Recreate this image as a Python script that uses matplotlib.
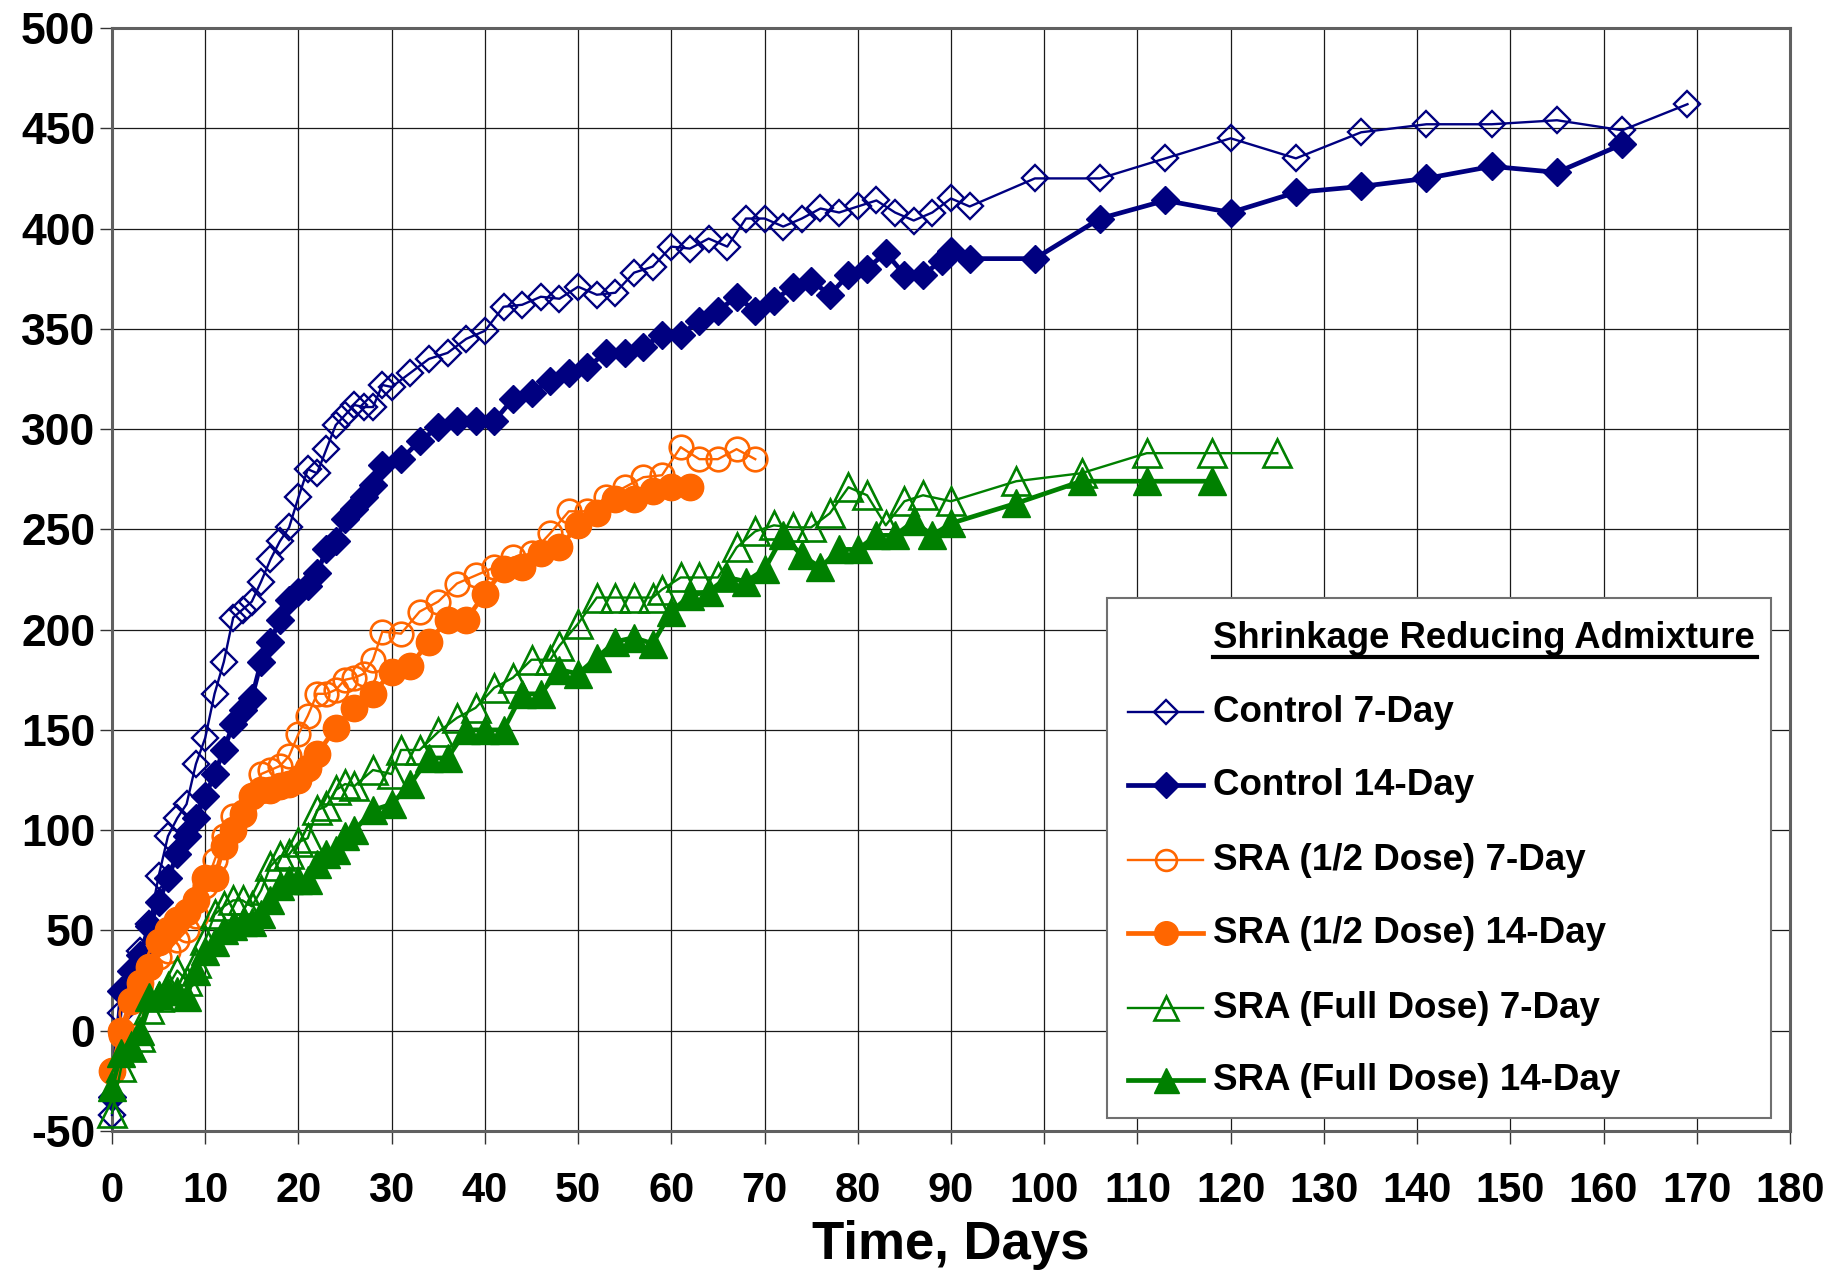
import matplotlib
matplotlib.use('Agg')
import matplotlib.pyplot as plt
from matplotlib.lines import Line2D
from matplotlib.patches import Rectangle

plt.rcParams['font.family'] = ['Liberation Sans', 'DejaVu Sans']
plt.rcParams['font.weight'] = 'bold'

# ---------------- data ----------------
ctrl7_x = [0, 1, 2, 3, 4, 5, 6, 7, 8, 9, 10, 11, 12, 13, 14, 15, 16, 17, 18, 19, 20, 21, 22, 23, 24,
           25, 26, 27, 28, 29, 30, 32, 34, 36, 38, 40, 42, 44, 46, 48, 50, 52, 54, 56, 58, 60, 62, 64,
           66, 68, 70, 72, 74, 76, 78, 80, 82, 84, 86, 88, 90, 92, 99, 106, 113, 120, 127, 134, 141,
           148, 155, 162, 169]
ctrl7_y = [-42, 9, 24, 40, 53, 77, 97, 106, 113, 133, 146, 168, 184, 206, 210, 214, 224, 235, 244, 251,
           266, 280, 278, 290, 302, 307, 312, 311, 311, 322, 321, 328, 335, 338, 345, 349, 361, 362, 366,
           365, 371, 367, 368, 378, 381, 391, 390, 395, 391, 405, 405, 401, 405, 410, 408, 411, 414, 408,
           404, 408, 415, 411, 425, 425, 435, 445, 435, 448, 452, 452, 454, 449, 462]

ctrl14_x = [0, 1, 2, 3, 4, 5, 6, 7, 8, 9, 10, 11, 12, 13, 14, 15, 16, 17, 18, 19, 20, 21, 22, 23, 24,
            25, 26, 27, 28, 29, 31, 33, 35, 37, 39, 41, 43, 45, 47, 49, 51, 53, 55, 57, 59, 61, 63, 65,
            67, 69, 71, 73, 75, 77, 79, 81, 83, 85, 87, 89, 90, 92, 99, 106, 113, 120, 127, 134, 141,
            148, 155, 162]
ctrl14_y = [-33, 20, 30, 38, 52, 64, 76, 88, 97, 106, 117, 128, 140, 153, 160, 166, 184, 194, 205, 215,
            219, 222, 228, 240, 244, 255, 260, 266, 272, 282, 285, 294, 301, 304, 304, 304, 315, 318,
            324, 328, 331, 338, 338, 341, 347, 347, 354, 359, 366, 359, 364, 371, 374, 367, 377, 380,
            388, 377, 377, 384, 389, 385, 385, 405, 414, 408, 418, 421, 425, 431, 428, 442]

half7_x = [0, 1, 2, 3, 4, 5, 6, 7, 8, 9, 10, 11, 12, 13, 14, 15, 16, 17, 18, 19, 20, 21, 22, 23, 24,
           25, 26, 27, 28, 29, 31, 33, 35, 37, 39, 41, 43, 45, 47, 49, 51, 53, 55, 57, 59, 61, 63, 65,
           67, 69]
half7_y = [-20, -2, 9, 22, 32, 37, 40, 45, 50, 57, 72, 85, 97, 107, 109, 117, 128, 130, 132, 137, 148,
           157, 168, 168, 170, 175, 176, 178, 185, 199, 198, 209, 214, 223, 227, 231, 236, 238, 248, 259,
           259, 266, 271, 276, 277, 291, 285, 285, 290, 285]

half14_x = [0, 1, 2, 3, 4, 5, 6, 7, 8, 9, 10, 11, 12, 13, 14, 15, 16, 17, 18, 19, 20, 21, 22, 24, 26,
            28, 30, 32, 34, 36, 38, 40, 42, 44, 46, 48, 50, 52, 54, 56, 58, 60, 62]
half14_y = [-20, 0, 15, 24, 32, 44, 50, 55, 59, 65, 76, 76, 92, 100, 108, 117, 120, 120, 122, 123, 125,
            131, 138, 151, 161, 168, 179, 182, 194, 205, 205, 218, 230, 231, 238, 241, 252, 258, 265,
            265, 269, 271, 271]

full7_x = [0, 1, 2, 3, 4, 5, 6, 7, 8, 9, 10, 11, 12, 13, 14, 15, 16, 17, 18, 19, 20, 21, 22, 23, 24,
           25, 26, 28, 30, 31, 33, 35, 37, 39, 41, 43, 45, 47, 48, 50, 52, 54, 56, 58, 59, 61, 63, 65,
           67, 69, 71, 73, 75, 77, 79, 81, 83, 85, 87, 90, 97, 104, 111, 118, 125]
full7_y = [-41, -18, -8, -3, 11, 17, 22, 30, 25, 34, 45, 58, 62, 65, 65, 62, 70, 82, 87, 88, 94, 96,
           110, 112, 120, 123, 122, 130, 128, 140, 140, 149, 156, 161, 171, 176, 185, 185, 192, 203, 216,
           216, 216, 216, 220, 226, 226, 226, 241, 249, 252, 251, 251, 258, 271, 267, 252, 264, 267, 264,
           274, 278, 288, 288, 288]

full14_x = [0, 1, 2, 3, 4, 5, 6, 7, 8, 9, 10, 11, 12, 13, 14, 15, 16, 17, 18, 19, 20, 21, 22, 23, 24,
            25, 26, 28, 30, 32, 34, 36, 38, 40, 42, 44, 46, 48, 50, 52, 54, 56, 58, 60, 62, 64, 66, 68,
            70, 72, 74, 76, 78, 80, 82, 84, 86, 88, 90, 97, 104, 111, 118]
full14_y = [-28, -11, -8, 0, 17, 18, 20, 20, 17, 30, 40, 44, 50, 52, 54, 54, 58, 65, 72, 75, 75, 75, 83,
            88, 90, 97, 100, 110, 113, 123, 136, 136, 150, 150, 150, 168, 168, 180, 178, 186, 194, 196,
            193, 209, 217, 219, 226, 224, 230, 247, 237, 231, 240, 240, 247, 247, 254, 247, 253, 263,
            274, 274, 274]

series_labels = ["Control 7-Day", "Control 14-Day", "SRA (1/2 Dose) 7-Day",
                 "SRA (1/2 Dose) 14-Day", "SRA (Full Dose) 7-Day", "SRA (Full Dose) 14-Day"]
legend_title = "Shrinkage Reducing Admixture"
x_ticks = list(range(0, 181, 10))
y_ticks = list(range(-50, 501, 50))
x_label = "Time, Days"

# ---------------- styles ----------------
NAVY = '#000080'
ORANGE = '#FF6600'
GREEN = '#008000'
styles = [
    dict(color=NAVY, marker='D', ms=13, mfc='none', mec=NAVY, mew=1.7, lw=1.7),
    dict(color=NAVY, marker='D', ms=14.5, mfc=NAVY, mec=NAVY, mew=1, lw=3.4),
    dict(color=ORANGE, marker='o', ms=17, mfc='none', mec=ORANGE, mew=1.9, lw=1.7),
    dict(color=ORANGE, marker='o', ms=19, mfc=ORANGE, mec=ORANGE, mew=1, lw=3.4),
    dict(color=GREEN, marker='^', ms=19.5, mfc='none', mec=GREEN, mew=1.9, lw=1.7),
    dict(color=GREEN, marker='^', ms=20.5, mfc=GREEN, mec=GREEN, mew=1, lw=3.4),
]
data = [(ctrl7_x, ctrl7_y), (ctrl14_x, ctrl14_y), (half7_x, half7_y),
        (half14_x, half14_y), (full7_x, full7_y), (full14_x, full14_y)]

W, H = 1827, 1272
L, R, T, B = 112, 1790, 28, 1131
fig = plt.figure(figsize=(W / 100, H / 100), dpi=100)
ax = fig.add_axes([L / W, 1 - B / H, (R - L) / W, (B - T) / H])

for (xs, ys), st, lab in zip(data, styles, series_labels):
    ax.plot(xs, ys, label=lab, clip_on=False, zorder=3, **st)

ax.set_xlim(0, 180)
ax.set_ylim(-50, 500)
ax.set_xticks(x_ticks)
ax.set_yticks(y_ticks)
ax.set_xticklabels([str(v) for v in x_ticks])
ax.set_yticklabels([str(v) for v in y_ticks])
ax.grid(True, color='#1a1a1a', lw=0.9, zorder=0)
ax.set_axisbelow(True)
for s in ax.spines.values():
    s.set_color('#606060')
    s.set_linewidth(2.2)
ax.tick_params(axis='both', direction='out', length=9, width=1, color='#333333')
ax.tick_params(axis='x', pad=20, labelsize=30)
ax.tick_params(axis='y', pad=3, labelsize=32)
for lbl in ax.get_xticklabels() + ax.get_yticklabels():
    lbl.set_fontweight('bold')
ax.set_xlabel(x_label, fontsize=38, fontweight='bold', labelpad=6)


# ---------------- manual legend ----------------
def fx(X):
    return (X - L) / (R - L)


def fy(Y):
    return (B - Y) / (B - T)


ax.add_patch(Rectangle((fx(1107), fy(1118)), fx(1771) - fx(1107), fy(598) - fy(1118),
                       transform=ax.transAxes, facecolor='white', edgecolor='#707070',
                       lw=1.5, zorder=10, clip_on=False))
ax.text(fx(1213), fy(638), legend_title, transform=ax.transAxes, fontsize=26.3,
        fontweight='bold', ha='left', va='center', zorder=11)
ax.add_line(Line2D([fx(1213), fx(1757)], [fy(657), fy(657)], transform=ax.transAxes,
                   color='black', lw=3, zorder=11, clip_on=False))
entry_Y = [712, 785, 860, 933, 1008, 1080]
leg_ms = [12, 13, 15, 17, 17, 18]
for Y, st, lab, ms in zip(entry_Y, styles, series_labels, leg_ms):
    ax.add_line(Line2D([fx(1128), fx(1203)], [fy(Y), fy(Y)], transform=ax.transAxes,
                       color=st['color'], lw=st['lw'], zorder=11, clip_on=False))
    ax.add_line(Line2D([fx(1165.5)], [fy(Y)], transform=ax.transAxes, linestyle='none',
                       marker=st['marker'], ms=ms, mfc=st['mfc'], mec=st['mec'],
                       mew=st['mew'], zorder=12, clip_on=False))
    ax.text(fx(1213), fy(Y), lab, transform=ax.transAxes, fontsize=26.5, fontweight='bold',
            ha='left', va='center', zorder=12)

fig.savefig('out.png', dpi=100)
